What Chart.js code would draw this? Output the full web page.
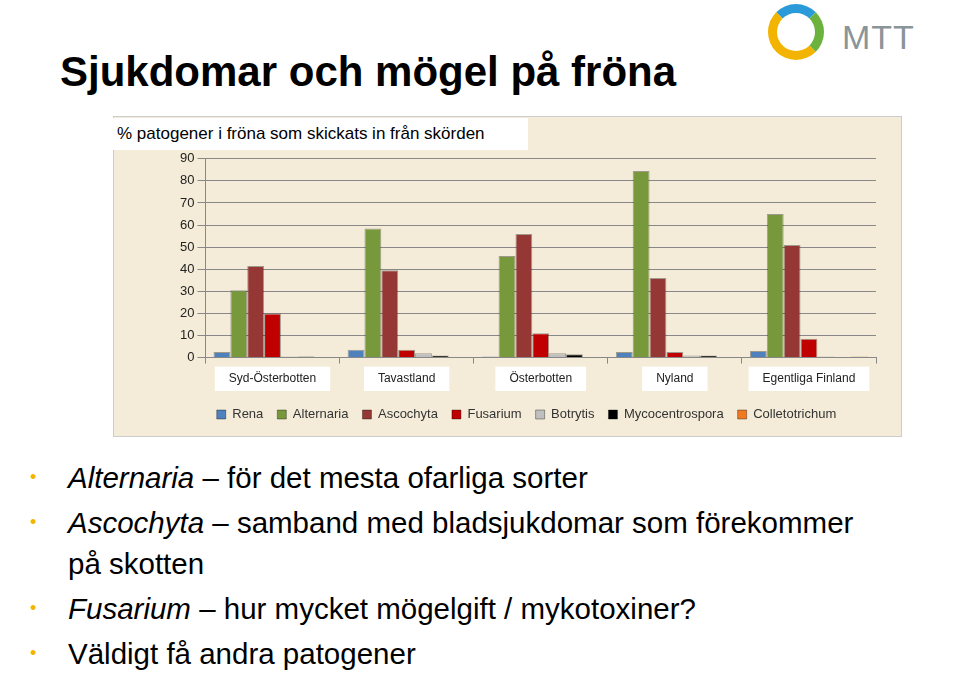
<!DOCTYPE html>
<html>
<head>
<meta charset="utf-8">
<script src="https://cdn.jsdelivr.net/npm/chart.js@4"></script>
<style>
body{margin:0;width:960px;height:700px;background:#fff;font-family:"Liberation Sans",Arial,sans-serif;position:relative;overflow:hidden}
#title{position:absolute;left:60px;top:48px;font-size:42px;font-weight:bold;color:#000}
#panel{position:absolute;left:113px;top:116px;width:789px;height:321px;background:#f4ecd8;border:1px solid #ccc;box-sizing:border-box}
#sub{position:absolute;left:113px;top:118px;width:415px;height:32px;background:#fff;font-size:17px;line-height:32px;padding-left:4px;box-sizing:border-box}
#wrap{position:absolute;left:113px;top:148px;width:789px;height:289px}
ul{position:absolute;left:30px;top:457px;width:840px;margin:0;padding:0;list-style:none;font-size:29.5px;line-height:41px}
li{position:relative;padding-left:38px;margin-bottom:4px}
li:before{content:"\2022";position:absolute;left:0;color:#f2b400;font-size:18px}
.logo{position:absolute;left:842px;top:18px;font-size:34px;color:#8a9599;letter-spacing:1px}
.ring{position:absolute;left:768px;top:4px;width:56px;height:56px;border-radius:50%;border:9px solid #f2b400;border-top-color:#2a9ad8;border-right-color:#6cb33e;box-sizing:border-box}
</style>
</head>
<body>
<div class="ring"></div><div class="logo">MTT</div>
<div id="title">Sjukdomar och mögel på fröna</div>
<div id="panel"></div>
<div id="sub">% patogener i fröna som skickats in från skörden</div>
<div id="wrap"><canvas id="myChart"></canvas></div>
<ul>
<li><i>Alternaria</i> – för det mesta ofarliga sorter</li>
<li><i>Ascochyta</i> – samband med bladsjukdomar som förekommer på skotten</li>
<li><i>Fusarium</i> – hur mycket mögelgift / mykotoxiner?</li>
<li>Väldigt få andra patogener</li>
</ul>
<script>
var regions = ["Syd-Österbotten", "Tavastland", "Österbotten", "Nyland", "Egentliga Finland"];
var seriesNames = ["Rena", "Alternaria", "Ascochyta", "Fusarium", "Botrytis", "Mycocentrospora", "Colletotrichum"];
var rena = [2.5, 3.5, 0.5, 2.5, 3];
var alternaria = [30.5, 58.5, 46, 84.5, 65];
var ascochyta = [41.5, 39.5, 56, 36, 51];
var fusarium = [20, 3.5, 11, 2.5, 8.5];
var botrytis = [0.5, 2, 2, 1, 0.5];
var mycocentrospora = [0.5, 1, 1.5, 1, 0];
var colletotrichum = [0, 0, 0, 0, 0.5];
var barColors = ["#4f81bd", "#77993c", "#953735", "#c00000", "#bfbfbf", "#000000", "#f07a22"];

var values = [rena, alternaria, ascochyta, fusarium, botrytis, mycocentrospora, colletotrichum];
var datasets = [];
for (var i = 0; i < values.length; i++) {
  datasets.push({label: seriesNames[i], data: values[i], backgroundColor: barColors[i],
    borderColor: "rgba(0,0,0,0.35)", borderWidth: 1, categoryPercentage: 0.88, barPercentage: 1});
}
new Chart("myChart", {
  type: "bar",
  data: {labels: regions, datasets: datasets},
  options: {
    responsive: true, maintainAspectRatio: false, animation: false,
    layout: {padding: {left: 64, right: 26, top: 4, bottom: 6}},
    plugins: {
      legend: {position: "bottom", labels: {boxWidth: 9, boxHeight: 9, padding: 14, color: "#333", font: {size: 13}}},
      tooltip: {enabled: false}
    },
    scales: {
      x: {grid: {drawOnChartArea: false, color: "#888", tickLength: 6}, border: {color: "#888"},
        ticks: {color: "#222", font: {size: 12}, showLabelBackdrop: true, backdropColor: "#fff", backdropPadding: {x: 14, y: 5}, padding: 8}},
      y: {min: 0, max: 90, ticks: {stepSize: 10, color: "#222", font: {size: 13}}, grid: {color: "#888"}, border: {color: "#888"}}
    }
  }
});
</script>
</body>
</html>
